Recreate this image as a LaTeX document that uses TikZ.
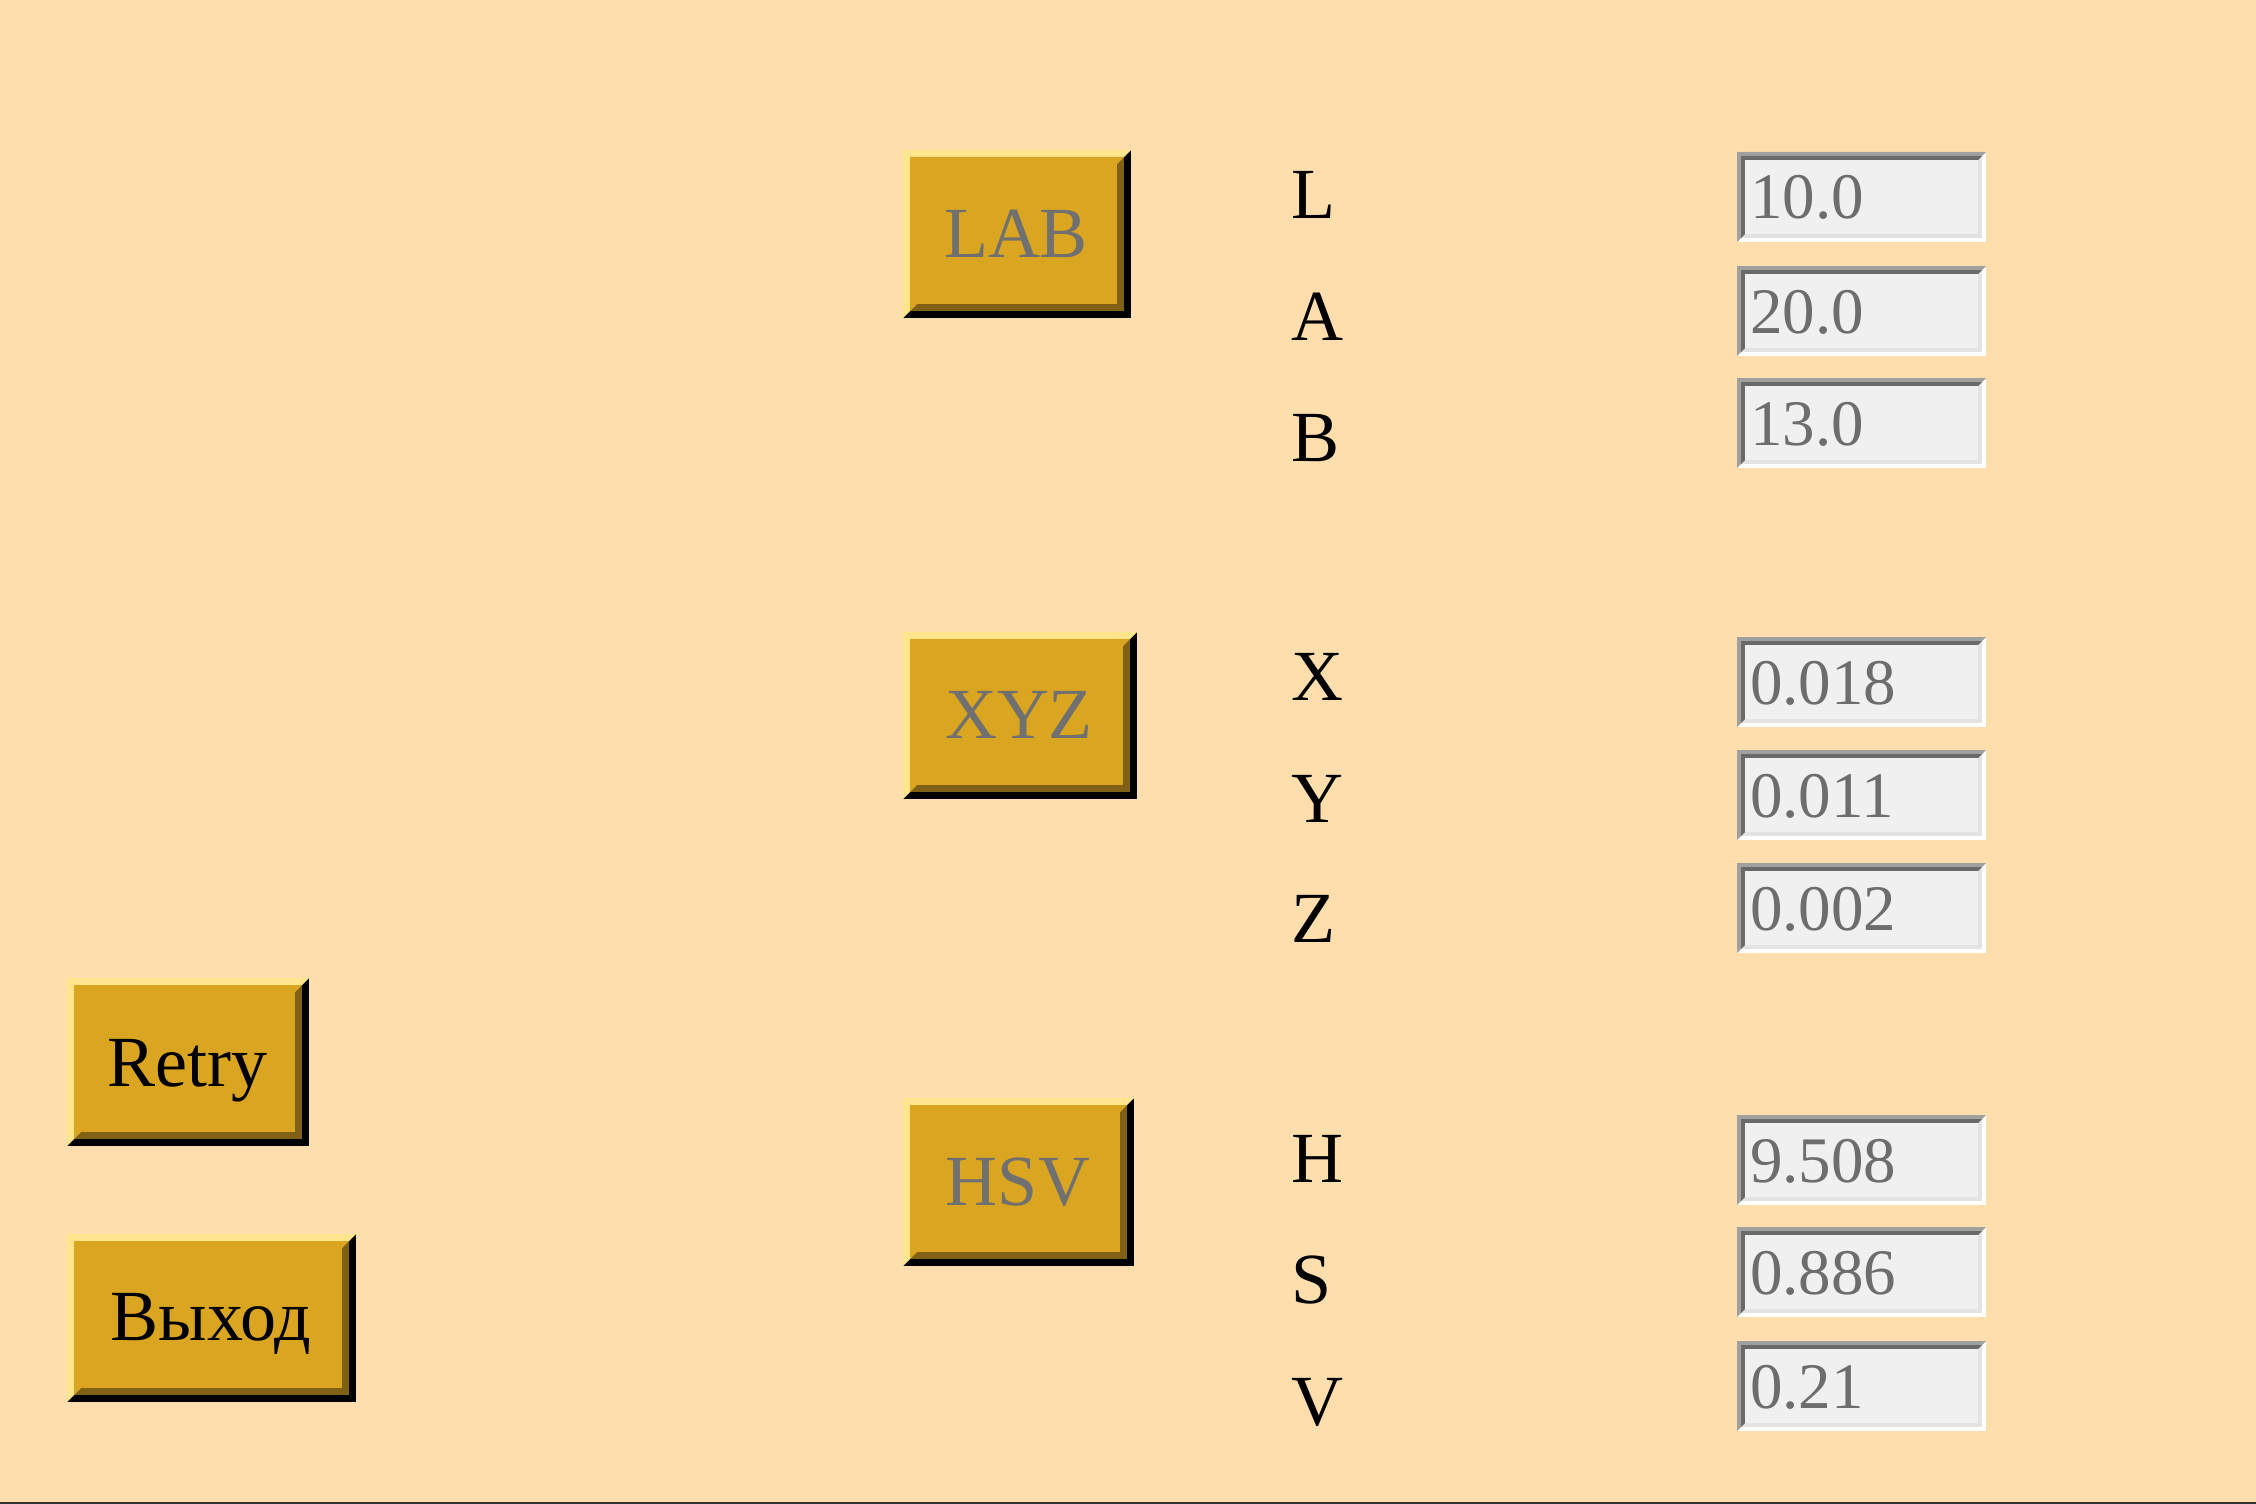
\documentclass[tikz,border=0pt]{standalone}
\usepackage{fontspec}
\setmainfont{Liberation Serif}
\definecolor{bgcol}{RGB}{255,222,173}
\definecolor{btnface}{RGB}{218,165,32}
\definecolor{btnlite}{RGB}{255,230,140}
\definecolor{btndark}{RGB}{128,96,20}
\definecolor{btntext}{RGB}{112,112,112}
\definecolor{boxtext}{RGB}{109,109,109}
\definecolor{boxface}{RGB}{240,240,240}
\definecolor{boxlt}{RGB}{160,160,160}
\definecolor{boxdk}{RGB}{105,105,105}
\definecolor{boxin}{RGB}{227,227,227}
\newcommand\ring[7]{%
  \fill[fill=#7] (#1,#2) rectangle (#3,#4);
  \fill[fill=#6] (#1,#2) -- (#3,#2) -- ({#3-#5},{#2+#5}) -- ({#1+#5},{#2+#5}) -- ({#1+#5},{#4-#5}) -- (#1,#4) -- cycle;}
% button: name, x0, y0, x1, y1, text, text colour, text x, baseline
\newcommand\mybtn[9]{%
  \ring{#2}{#3}{#4}{#5}{7}{btnlite}{black}
  \ring{#2+7}{#3+7}{#4-7}{#5-7}{7}{btnface}{btndark}
  \fill[fill=btnface] ({#2+14},{#3+14}) rectangle ({#4-14},{#5-14});
  \node[btnlabel,text=#7] (#1) at (#8,#9) {#6};}
% input box: name, y0, text
\newcommand\mybox[3]{%
  \ring{1737}{#2}{1986}{#2+90}{4}{boxlt}{white}
  \ring{1741}{#2+4}{1982}{#2+86}{4}{boxdk}{boxin}
  \fill[fill=boxface] (1745,{#2+8}) rectangle (1978,{#2+82});
  \node[boxlabel] (#1) at (1750,{#2+67}) {#3};}
\tikzset{
  btnlabel/.style={anchor=base, inner sep=0pt, outer sep=0pt, font=\fontsize{36pt}{40pt}\selectfont},
  boxlabel/.style={anchor=base west, inner sep=0pt, outer sep=0pt, text=boxtext, font=\fontsize{32.5pt}{36pt}\selectfont},
  fieldname/.style={anchor=base west, inner sep=0pt, outer sep=0pt, text=black, font=\fontsize{36pt}{40pt}\selectfont}
}
\begin{document}
\begin{tikzpicture}[x=0.5pt,y=-0.5pt]
\useasboundingbox (0,0) rectangle (2256,1504);
\fill[fill=bgcol] (0,0) rectangle (2256,1504);
\fill[fill=black!80] (0,1502) rectangle (2256,1504);
% mode buttons
\mybtn{lab}{903}{150}{1131}{318}{LAB}{btntext}{1016}{257}
\mybtn{xyz}{903}{632}{1137}{799}{XYZ}{btntext}{1019}{738}
\mybtn{hsv}{903}{1098}{1134}{1266}{HSV}{btntext}{1018}{1205}
% action buttons
\mybtn{retry}{67}{978}{309}{1146}{Retry}{black}{187}{1086}
\mybtn{exit}{67}{1234}{356}{1402}{Выход}{black}{211}{1340}
% field names
\node[fieldname] (nL) at (1291,219) {L};
\node[fieldname] (nA) at (1291,340) {A};
\node[fieldname] (nB) at (1291,461) {B};
\node[fieldname] (nX) at (1291,700) {X};
\node[fieldname] (nY) at (1291,822) {Y};
\node[fieldname] (nZ) at (1291,942) {Z};
\node[fieldname] (nH) at (1291,1182) {H};
\node[fieldname] (nS) at (1291,1303) {S};
\node[fieldname] (nV) at (1291,1425) {V};
% input fields
\mybox{vL}{152}{10.0}
\mybox{vA}{266}{20.0}
\mybox{vB}{378}{13.0}
\mybox{vX}{637}{0.018}
\mybox{vY}{750}{0.011}
\mybox{vZ}{863}{0.002}
\mybox{vH}{1115}{9.508}
\mybox{vS}{1227}{0.886}
\mybox{vV}{1341}{0.21}
\end{tikzpicture}
\end{document}
